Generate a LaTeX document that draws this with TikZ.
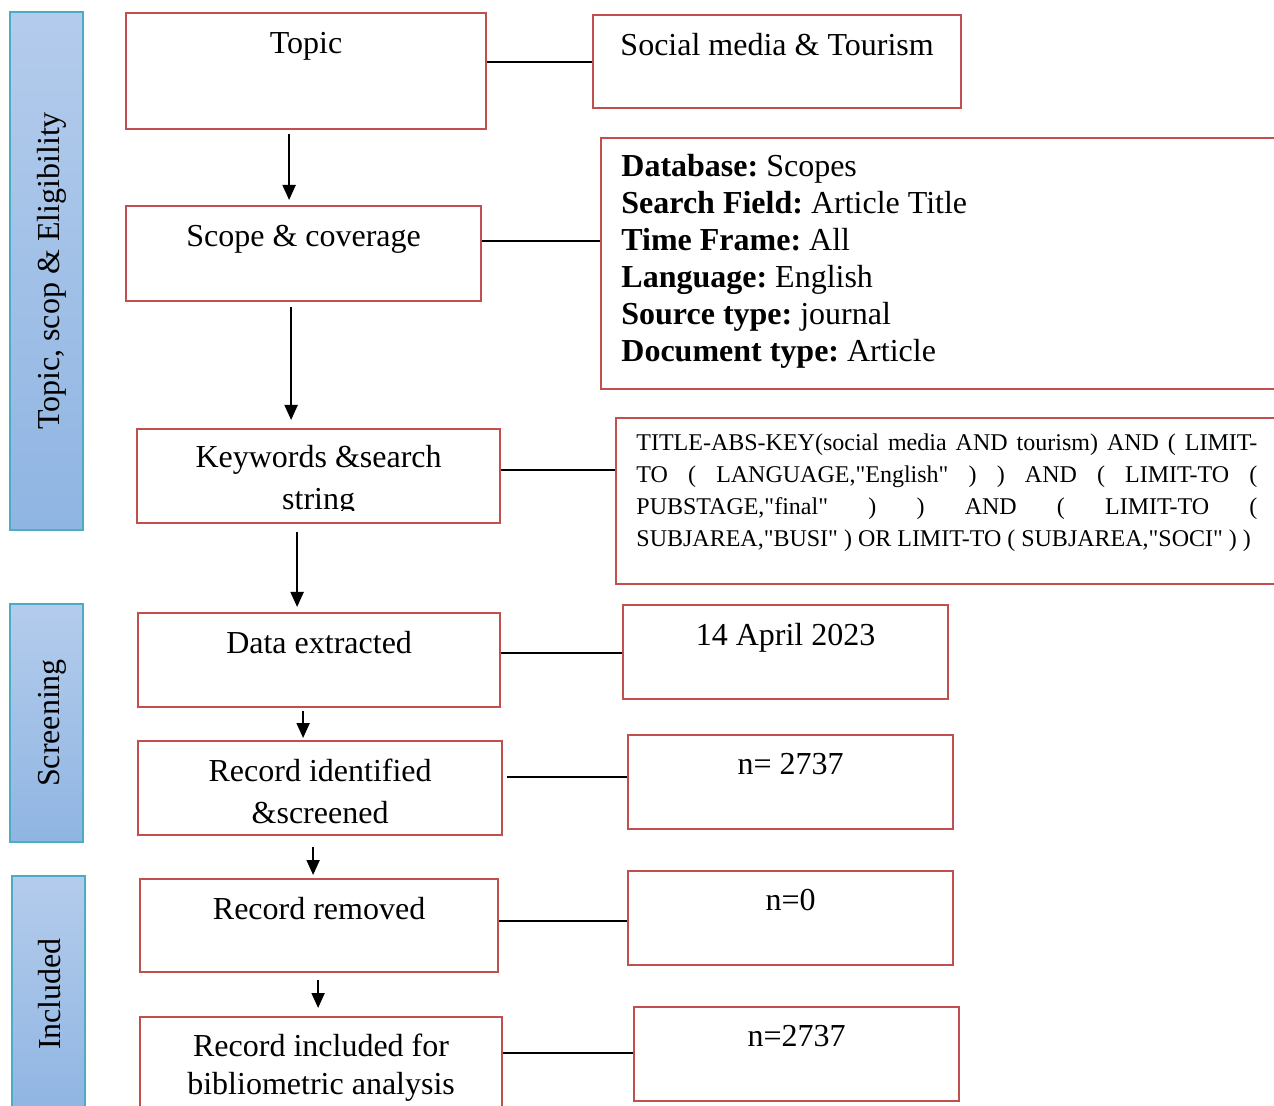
\documentclass[tikz,border=0pt]{standalone}
\usepackage{fontspec}
\setmainfont{Liberation Serif}
\newfontfamily\queryfont{Liberation Serif}
\usepackage{xcolor}
\usetikzlibrary{arrows.meta,positioning,calc}
\definecolor{boxred}{RGB}{192,80,77}
\definecolor{barline}{RGB}{75,172,198}
\definecolor{bartop}{RGB}{180,204,236}
\definecolor{barbot}{RGB}{143,181,226}
\tikzset{
  box/.style={rectangle, draw=boxred, line width=1.1pt, anchor=north west, inner sep=0pt},
  stage/.style={rectangle, draw=barline, line width=0.8pt, rotate=90, top color=bartop,
                bottom color=barbot, minimum height=36.5pt, text height=16pt, text depth=3.5pt,
                font=\fontsize{16}{19}\selectfont},
  txt/.style={inner sep=0pt, align=center, font=\fontsize{16}{21}\selectfont},
  link/.style={line width=1pt},
  arr/.style={-{Triangle[length=7.5pt, width=6.5pt]}, line width=1pt}
}
\begin{document}
\begin{tikzpicture}[x=0.5pt, y=-0.5pt, node distance=9.3pt]
  \path[use as bounding box, clip] (0,0) rectangle (1274,1106);

  \node[stage, minimum width=259pt] (phase1) at (46.5,271) {Topic, scop \& Eligibility};
  \node[stage, minimum width=119pt] (phase2) at (46.5,723) {Screening};
  \node[stage, minimum width=118pt] (phase3) at (48.5,994) {Included};

  \node[box, minimum width=180pt, minimum height=58pt] (topic) at (125,12) {};
  \node[box, minimum width=177.5pt, minimum height=47.5pt] (scope) at (125,205) {};
  \node[box, minimum width=181.5pt, minimum height=47pt] (keys) at (136,428) {};
  \node[box, minimum width=181pt, minimum height=47pt] (data) at (137,612) {};
  \node[box, minimum width=182pt, minimum height=47pt] (ident) at (137,740) {};
  \node[box, minimum width=179pt, minimum height=46.5pt] (removed) at (139,878) {};
  \node[box, minimum width=181pt, minimum height=48pt] (incl) at (139,1016) {};

  \node[box, minimum width=184pt, minimum height=46.5pt] (social) at (592,14) {};
  \node[box, minimum width=345pt, minimum height=125.5pt] (dbase) at (600,137) {};
  \node[box, minimum width=337.5pt, minimum height=83pt] (query) at (615,417) {};
  \node[box, minimum width=162.5pt, minimum height=47pt] (date) at (622,604) {};
  \node[box, minimum width=162.5pt, minimum height=47pt] (nident) at (627,734) {};
  \node[box, minimum width=162.5pt, minimum height=47pt] (nremoved) at (627,870) {};
  \node[box, minimum width=162.5pt, minimum height=47pt] (nincl) at (633,1006) {};

  \node[txt, below=10pt of topic.north] (topict) {Topic};
  \node[txt, below=10pt of scope.north] (scopet) {Scope \& coverage};
  \begin{scope}
    \clip (136,428) rectangle (499,511);
    \node[txt, below=8.5pt of keys.north] (keyst) {Keywords \&search\\string};
  \end{scope}
  \node[txt, below=of data.north] (datat) {Data extracted};
  \node[txt, below=of ident.north] (identt) {Record identified\\\&screened};
  \node[txt, below=of removed.north] (removedt) {Record removed};
  \node[txt, below=9pt of incl.north, font=\fontsize{16}{19}\selectfont] (inclt) {Record included for\\bibliometric analysis};

  \node[txt, below=of social.north] (socialt) {Social media \& Tourism};
  \node[txt, align=left, font=\fontsize{16}{18.5}\selectfont\frenchspacing, below right=8.5pt and 10.5pt of dbase.north west] (dbaset)
    {\textbf{Database:} Scopes\\\textbf{Search Field:} Article Title\\\textbf{Time Frame:} All\\
     \textbf{Language:} English\\\textbf{Source type:} journal\\\textbf{Document type:} Article};
  \node[txt, align=justify, text width=310.5pt,
        font={\queryfont\fontsize{12}{16}\selectfont\frenchspacing\tolerance=10000\hyphenpenalty=10000\exhyphenpenalty=10000},
        below right=8pt and 10.5pt of query.north west] (queryt)
    {TITLE-ABS-KEY(social media AND tourism) AND ( LIMIT-\linebreak TO ( LANGUAGE,"English" ) ) AND ( LIMIT-TO (\linebreak
     PUBSTAGE,"final" ) ) AND ( LIMIT-TO (\linebreak SUBJAREA,"BUSI" ) OR LIMIT-TO ( SUBJAREA,"SOCI" ) )};
  \node[txt, below=of date.north] (datet) {14 April 2023};
  \node[txt, below=of nident.north] (nidentt) {n= 2737};
  \node[txt, below=of nremoved.north] (nremovedt) {n=0};
  \node[txt, below=of nincl.north] (ninclt) {n=2737};

  \draw[link] (topic.east) ++(0,-9) coordinate (l1) -- (l1 -| social.west);
  \draw[link] (scope.east) ++(0,-12.5) coordinate (l2) -- (l2 -| dbase.west);
  \draw[link] (keys.east) ++(0,-6) coordinate (l3) -- (l3 -| query.west);
  \draw[link] (data.east) ++(0,-7) coordinate (l4) -- (l4 -| date.west);
  \draw[link] (ident.east) ++(4,-11) coordinate (l5) -- (l5 -| nident.west);
  \draw[link] (removed.east) ++(0,-4.5) coordinate (l6) -- (l6 -| nremoved.west);
  \draw[link] (incl.east) ++(0,-12) coordinate (l7) -- (l7 -| nincl.west);

  \draw[arr] ($(topic.south)+(-17,4)$) coordinate (a1) -- ($(a1 |- scope.north)+(0,-5)$);
  \draw[arr] ($(scope.south)+(-12.5,5)$) coordinate (a2) -- ($(a2 |- keys.north)+(0,-8)$);
  \draw[arr] ($(keys.south)+(-21.5,8)$) coordinate (a3) -- ($(a3 |- data.north)+(0,-5)$);
  \draw[arr] ($(data.south)+(-16,3)$) coordinate (a4) -- ($(a4 |- ident.north)+(0,-2)$);
  \draw[arr] ($(ident.south)+(-7,11)$) coordinate (a5) -- ($(a5 |- removed.north)+(0,-3)$);
  \draw[arr] ($(removed.south)+(-1,7)$) coordinate (a6) -- ($(a6 |- incl.north)+(0,-8)$);
\end{tikzpicture}
\end{document}
